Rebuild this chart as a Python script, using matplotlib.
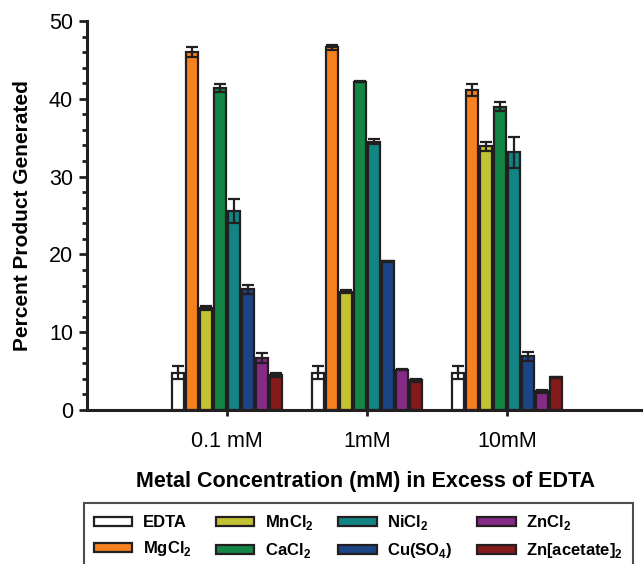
import numpy as np
import matplotlib
matplotlib.use("Agg")
import matplotlib.pyplot as plt
from matplotlib.ticker import MultipleLocator

# data
groups = ["0.1 mM", "1mM", "10mM"]
metals = ["EDTA", r"MgCl$_\mathbf{2}$", r"MnCl$_\mathbf{2}$", r"CaCl$_\mathbf{2}$",
          r"NiCl$_\mathbf{2}$", r"Cu(SO$_\mathbf{4}$)", r"ZnCl$_\mathbf{2}$",
          r"Zn[acetate]$_\mathbf{2}$"]
colors = ["#ffffff", "#f5821f", "#c2c232", "#138545", "#128484",
          "#1b4585", "#852a85", "#841a1a"]

edta = [4.8, 4.8, 4.8]
mgcl2 = [46.0, 46.6, 41.1]
mncl2 = [13.1, 15.2, 33.9]
cacl2 = [41.4, 42.2, 39.0]
nicl2 = [25.6, 34.5, 33.1]
cuso4 = [15.5, 19.1, 6.9]
zncl2 = [6.7, 5.2, 2.4]
znac2 = [4.5, 3.8, 4.2]

edta_err = [0.8, 0.8, 0.8]
mgcl2_err = [0.6, 0.3, 0.8]
mncl2_err = [0.3, 0.2, 0.6]
cacl2_err = [0.55, 0.1, 0.55]
nicl2_err = [1.5, 0.3, 2.0]
cuso4_err = [0.55, 0.05, 0.55]
zncl2_err = [0.6, 0.05, 0.2]
znac2_err = [0.3, 0.2, 0.05]

values = [edta, mgcl2, mncl2, cacl2, nicl2, cuso4, zncl2, znac2]
errors = [edta_err, mgcl2_err, mncl2_err, cacl2_err, nicl2_err, cuso4_err, zncl2_err, znac2_err]

plt.rcParams["font.family"] = ["Liberation Sans", "DejaVu Sans"]
plt.rcParams["mathtext.fontset"] = "custom"
plt.rcParams["mathtext.bf"] = "Liberation Sans:bold"
plt.rcParams["mathtext.rm"] = "Liberation Sans"

fig = plt.figure(figsize=(6.43, 5.64), dpi=100)
ax = fig.add_axes([87 / 643, 154 / 564, 556 / 643, 389 / 564])

x = np.arange(1, len(groups) + 1)
pitch = 0.1
width = 0.08
edge = "#231f20"

for i, (vals, errs) in enumerate(zip(values, errors)):
    pos = x + (i - 3.5) * pitch
    ax.bar(pos, vals, width, color=colors[i], edgecolor=edge, linewidth=1.6,
           label=metals[i], zorder=2)
    ax.errorbar(pos, vals, yerr=errs, fmt="none", ecolor=edge, elinewidth=1.6,
                capsize=4, capthick=1.6, zorder=3)

ax.set_xlim(0, 556 / 140)
ax.set_ylim(0, 50)
ax.set_xticks(x)
ax.set_xticklabels(groups)
ax.yaxis.set_major_locator(MultipleLocator(10))
ax.yaxis.set_minor_locator(MultipleLocator(2))

for s in ["top", "right"]:
    ax.spines[s].set_visible(False)
for s in ["left", "bottom"]:
    ax.spines[s].set_linewidth(2.2)
    ax.spines[s].set_color(edge)

ax.tick_params(axis="y", which="major", direction="out", length=6, width=2,
               labelsize=15.5, pad=4, color=edge)
ax.tick_params(axis="y", which="minor", direction="out", length=3.5, width=2, color=edge)
ax.tick_params(axis="x", which="major", direction="out", length=4, width=2,
               labelsize=15.5, pad=11, color=edge)

ax.set_ylabel("Percent Product Generated", fontsize=15, fontweight="bold", labelpad=12)
ax.set_xlabel("Metal Concentration (mM) in Excess of EDTA", fontsize=15.5,
              fontweight="bold", labelpad=14)

leg = fig.legend(loc="upper left", bbox_to_anchor=(84 / 643, 1 - 503 / 564),
                 ncol=4, prop={"weight": "bold", "size": 12},
                 handlelength=2.3, handleheight=0.45, columnspacing=1.45,
                 handletextpad=0.65, borderpad=0.6, labelspacing=0.55,
                 fancybox=False, edgecolor=edge, borderaxespad=0)
leg.get_frame().set_linewidth(1.5)

fig.savefig("out.png", dpi=100)
